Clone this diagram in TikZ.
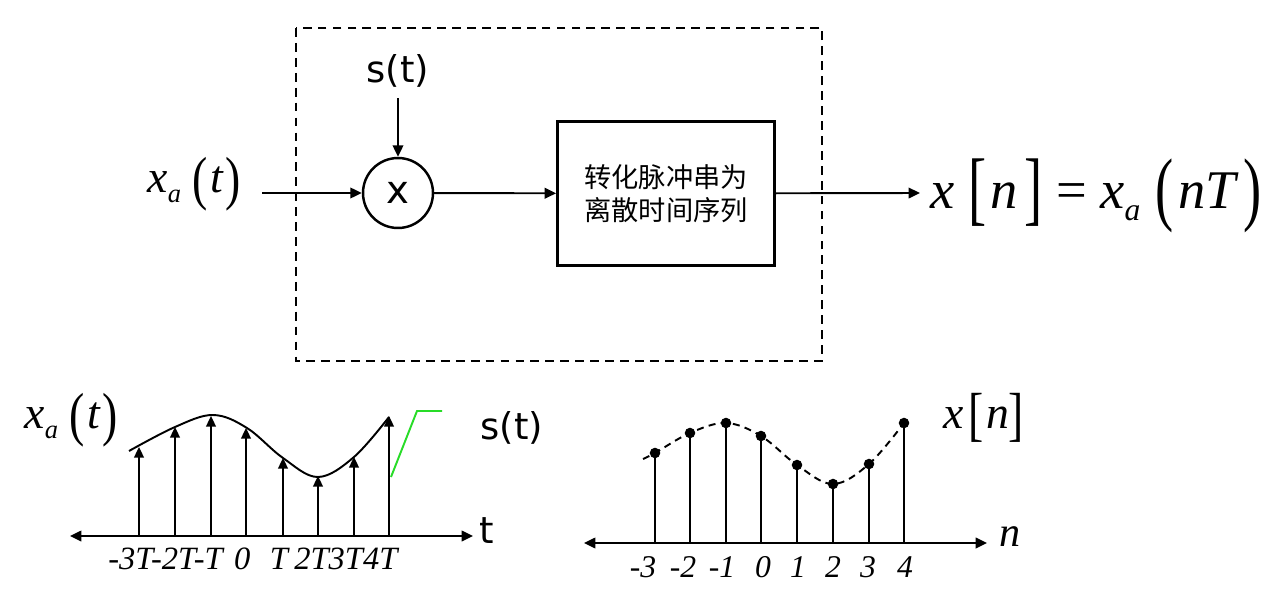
\documentclass[tikz,border=0pt]{standalone}
\usepackage{fontspec}
\usepackage{graphicx}
\setmainfont{Liberation Serif}
\newfontfamily\sansf{DejaVu Sans}
\newfontfamily\cjk{Noto Sans CJK SC}
\usetikzlibrary{arrows.meta, positioning}
\definecolor{mygreen}{RGB}{40,220,40}
\newcommand{\dlm}[2][1.3]{\raisebox{-0.13em}{\upshape\scalebox{1}[#1]{#2}}}
\newcommand{\lowsub}[1]{\raisebox{-0.22em}{\scalebox{0.58}{#1}}}

\begin{document}
\begin{tikzpicture}[x=0.02cm, y=-0.02cm,
    arrow/.style={-{Triangle[length=6.5pt,width=6pt]}, line width=1.1pt},
    stemarrow/.style={-{Triangle[length=6pt,width=5.5pt]}, line width=1.1pt},
    axis/.style={{Triangle[length=6.5pt,width=6pt]}-{Triangle[length=6.5pt,width=6pt]}, line width=1.2pt},
    box/.style={rectangle, draw, line width=1.6pt, minimum width=4.34cm, minimum height=2.88cm, align=center, font={\cjk\fontsize{15.5}{18.5}\selectfont}},
    mult/.style={circle, draw, line width=1.4pt, minimum size=1.4cm, inner sep=0pt, font={\sansf\fontsize{22}{26}\selectfont}},
    sanslbl/.style={font={\sansf\fontsize{21}{25}\selectfont}, inner sep=0pt},
    mathlbl/.style={font={\fontsize{26}{30}\selectfont\itshape}, inner sep=0pt},
    ticklbl/.style={font={\fontsize{18.5}{22}\selectfont\itshape}, inner sep=0pt}
]
\useasboundingbox (0,0) rectangle (1276,598);

% sampler
\draw[line width=1.1pt, dash pattern=on 5pt off 3.5pt] (296,28) rectangle (822,361);
\node[mathlbl] (xin) at (194,184) {x\lowsub{a}\hspace{0.25em}\dlm{(}\hspace{0.05em}t\hspace{0.05em}\dlm{)}};
\node[mult] (mul) at (398,193) {x};
\node[sanslbl, anchor=south] (st) at (398,88) {s(t)};
\node[box] (conv) at (666,193.5) {转化脉冲串为\\离散时间序列};
\node[mathlbl, font={\fontsize{31}{35}\selectfont\itshape}, anchor=west] (xout) at (930,196)
  {x\hspace{0.25em}\dlm[1.5]{[}\hspace{0.08em}n\hspace{0.12em}\dlm[1.5]{]}\hspace{0.25em}{\upshape=}\hspace{0.25em}x\lowsub{a}\hspace{0.28em}\dlm[1.5]{(}\hspace{0.08em}nT\hspace{0.15em}\dlm[1.5]{)}};
\coordinate (in0) at (262,193);
\coordinate (out0) at (920,193);

\draw[arrow] (in0) -- (mul);
\draw[arrow, shorten <=5.7pt] (st) -- (mul);
\draw[arrow] (mul) -- (conv);
\draw[arrow] (conv) -- (out0);

% sampled signal
\node[mathlbl] (xa) at (71,420) {x\lowsub{a}\hspace{0.25em}\dlm{(}\hspace{0.05em}t\hspace{0.05em}\dlm{)}};
\node[sanslbl] (sb) at (512,428) {s(t)};
\node[sanslbl] (tl) at (487,531) {t};
\coordinate (ta) at (70,536);
\coordinate (tb) at (473,536);
\draw[axis] (ta) -- (tb);
\foreach \x/\y in {139/447, 175/427, 211/416, 246/428, 283/458, 318/476, 354/457, 389/416}
  \draw[stemarrow] (\x,536) -- (\x,\y);
\draw[line width=1.1pt] plot[smooth, tension=0.6] coordinates {(129,451) (175,427) (213,415) (247,428) (283,458) (318,477) (354,457) (389,417)};
\draw[mygreen, line width=1.1pt] (391,477) -- (417,411) -- (442,411);
\node[ticklbl, anchor=west] (tt) at (108,559) {-3T-2T-T\hspace{0.35em}0\hspace{0.6em}T\hspace{0.2em}2T3T4T};

% discrete sequence
\node[mathlbl] (xn) at (984,418) {x\hspace{0.1em}\dlm{[}\hspace{0.05em}n\dlm{]}};
\node[mathlbl, font={\fontsize{24}{28}\selectfont\itshape}] (nl) at (1010,537) {n};
\coordinate (na) at (584,543);
\coordinate (nb) at (987,543);
\draw[axis] (na) -- (nb);
\draw[line width=1.1pt, dash pattern=on 4pt off 3pt] plot[smooth, tension=0.6] coordinates {(643,459) (655,453) (690,433) (726,423) (761,436) (797,465) (833,484) (869,464) (904,423)};
\foreach \x/\y in {655/453, 690/433, 726/423, 761/436, 797/465, 833/484, 869/464, 904/423} {
  \draw[line width=1.1pt] (\x,543) -- (\x,\y);
  \fill (\x,\y) circle (3pt);
}
\foreach \lx/\lab [count=\i] in {643/-3, 683/-2, 722/-1, 763/0, 798/1, 833/2, 868/3, 905/4}
  \node[ticklbl, font={\fontsize{18}{21}\selectfont\itshape}] (nt\i) at (\lx,567) {\lab};
\end{tikzpicture}
\end{document}
